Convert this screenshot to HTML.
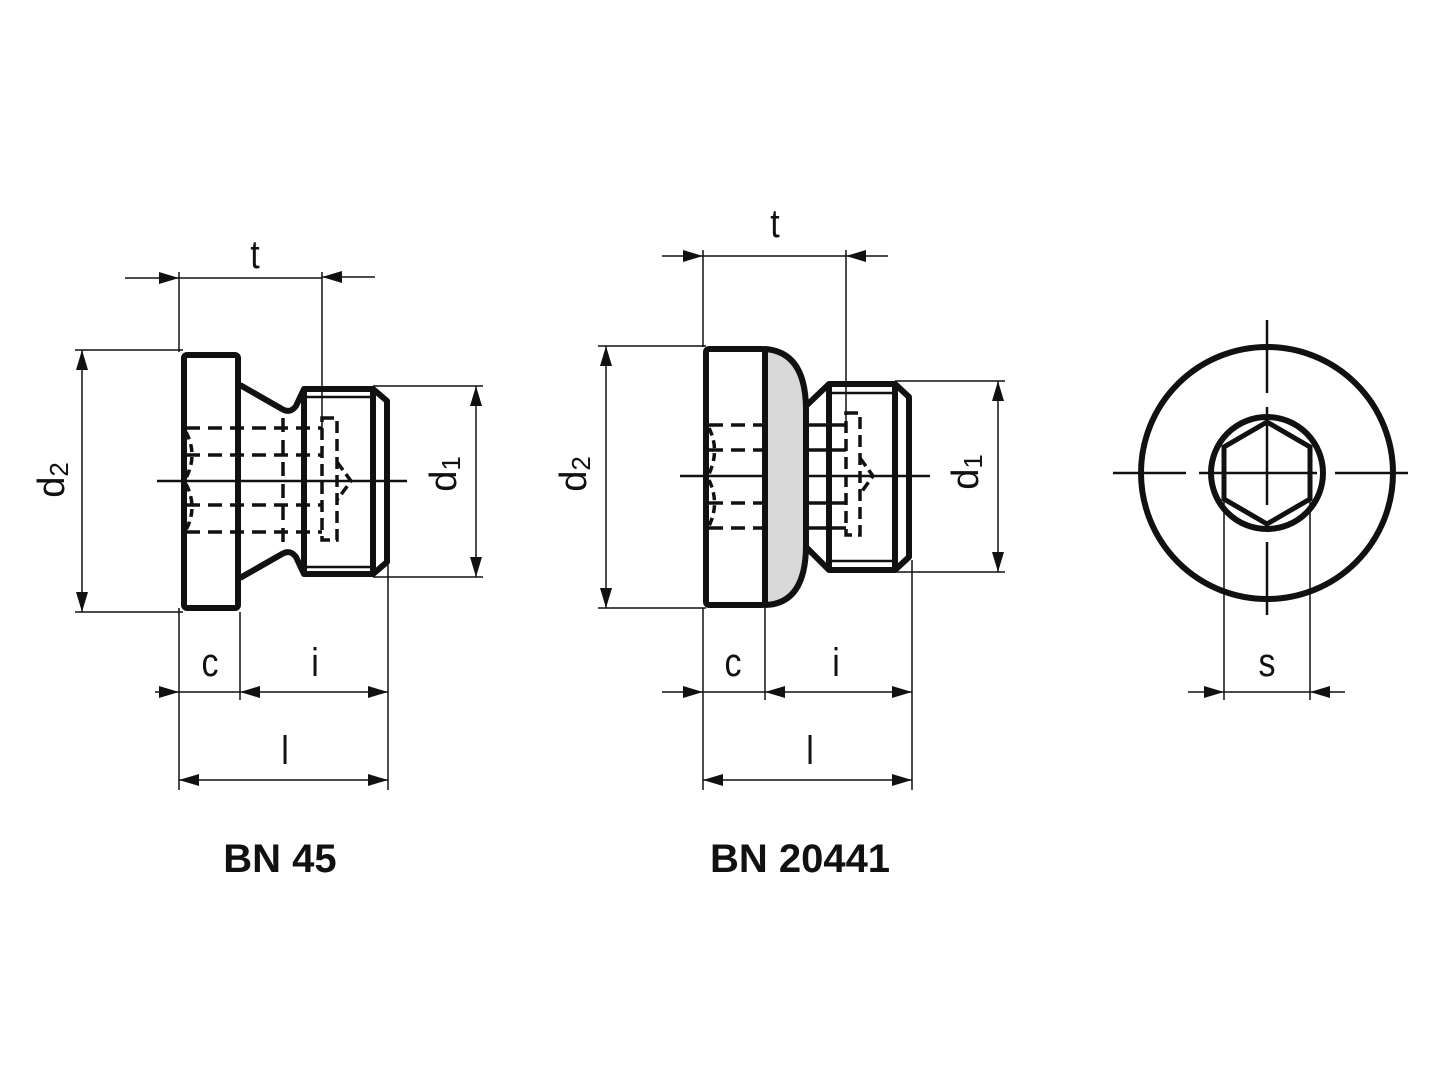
<!DOCTYPE html>
<html><head><meta charset="utf-8"><style>html,body{margin:0;padding:0;background:#fff}svg{display:block}</style></head><body>
<svg width="1440" height="1080" viewBox="0 0 1440 1080" xmlns="http://www.w3.org/2000/svg" font-family="Liberation Sans, sans-serif">
<defs>
<marker id="a" viewBox="0 0 20 12" refX="20" refY="6" markerWidth="20" markerHeight="12" markerUnits="userSpaceOnUse" orient="auto"><path d="M0,0 L20,6 L0,12 Z" fill="#111"/></marker>
</defs>
<rect width="1440" height="1080" fill="#fff"/>
<g stroke="#111" fill="none">
<!-- ===== BN45 ===== -->
<g stroke-width="1.5">
<line x1="157" y1="481" x2="407" y2="481" stroke-width="2.5"/>
<line x1="179" y1="272" x2="179" y2="352"/>
<line x1="322" y1="272" x2="322" y2="430"/>
<line x1="75" y1="350" x2="183" y2="350"/>
<line x1="75" y1="612" x2="183" y2="612"/>
<line x1="373" y1="386" x2="483" y2="386"/>
<line x1="373" y1="577" x2="483" y2="577"/>
<line x1="179" y1="608" x2="179" y2="790"/>
<line x1="240" y1="612" x2="240" y2="700"/>
<line x1="388" y1="565" x2="388" y2="790"/>
<line x1="125" y1="278" x2="179" y2="278" marker-end="url(#a)"/>
<line x1="179" y1="278" x2="322" y2="278"/>
<line x1="375" y1="277" x2="322" y2="277" marker-end="url(#a)"/>
<line x1="82" y1="481" x2="82" y2="350" marker-end="url(#a)"/>
<line x1="82" y1="481" x2="82" y2="612" marker-end="url(#a)"/>
<line x1="476" y1="481" x2="476" y2="386" marker-end="url(#a)"/>
<line x1="476" y1="481" x2="476" y2="577" marker-end="url(#a)"/>
<line x1="155" y1="692" x2="179" y2="692" marker-end="url(#a)"/>
<line x1="179" y1="692" x2="240" y2="692"/>
<line x1="314" y1="692" x2="240" y2="692" marker-end="url(#a)"/>
<line x1="314" y1="692" x2="388" y2="692" marker-end="url(#a)"/>
<line x1="284" y1="780" x2="179" y2="780" marker-end="url(#a)"/>
<line x1="284" y1="780" x2="388" y2="780" marker-end="url(#a)"/>
</g>
<g stroke-width="6" stroke-linejoin="round">
<rect x="184" y="355" width="54" height="253" rx="3"/>
<path d="M240,385 L282,409 Q290,414 296,406 L304,389 L373,389 L387,401 L387,562 L373,574 L304,574 L296,557 Q290,549 282,554 L240,578"/>
<line x1="304" y1="389" x2="304" y2="574"/>
<line x1="373" y1="389" x2="373" y2="574"/>
</g>
<g stroke-width="2.5">
<line x1="305" y1="397" x2="373" y2="397"/>
<line x1="305" y1="567" x2="373" y2="567"/>
</g>
<g stroke-width="3.5" stroke-dasharray="14,8">
<line x1="186" y1="428" x2="322" y2="428"/>
<line x1="186" y1="455" x2="322" y2="455"/>
<line x1="186" y1="505" x2="322" y2="505"/>
<line x1="186" y1="532" x2="322" y2="532"/>
<line x1="283" y1="418" x2="283" y2="545"/>
<rect x="322" y="418" width="15" height="122" stroke-dasharray="12,6"/>
<path d="M337,462 L351,481 L337,500" stroke-dasharray="10,5"/>
<path d="M186,432 Q198,455 186,478 M186,484 Q198,507 186,530" stroke-dasharray="8,5"/>
</g>
<!-- ===== BN20441 ===== -->
<g stroke-width="1.5">
<line x1="680" y1="476" x2="930" y2="476" stroke-width="2.5"/>
<line x1="703" y1="250" x2="703" y2="347"/>
<line x1="846" y1="250" x2="846" y2="425"/>
<line x1="598" y1="346" x2="706" y2="346"/>
<line x1="598" y1="608" x2="706" y2="608"/>
<line x1="895" y1="381" x2="1005" y2="381"/>
<line x1="895" y1="572" x2="1005" y2="572"/>
<line x1="703" y1="608" x2="703" y2="790"/>
<line x1="765" y1="608" x2="765" y2="700"/>
<line x1="912" y1="560" x2="912" y2="790"/>
<line x1="662" y1="256" x2="703" y2="256" marker-end="url(#a)"/>
<line x1="703" y1="256" x2="846" y2="256"/>
<line x1="888" y1="256" x2="846" y2="256" marker-end="url(#a)"/>
<line x1="606" y1="477" x2="606" y2="346" marker-end="url(#a)"/>
<line x1="606" y1="477" x2="606" y2="608" marker-end="url(#a)"/>
<line x1="998" y1="476" x2="998" y2="381" marker-end="url(#a)"/>
<line x1="998" y1="476" x2="998" y2="572" marker-end="url(#a)"/>
<line x1="662" y1="692" x2="703" y2="692" marker-end="url(#a)"/>
<line x1="703" y1="692" x2="765" y2="692"/>
<line x1="838" y1="692" x2="765" y2="692" marker-end="url(#a)"/>
<line x1="838" y1="692" x2="912" y2="692" marker-end="url(#a)"/>
<line x1="808" y1="780" x2="703" y2="780" marker-end="url(#a)"/>
<line x1="808" y1="780" x2="912" y2="780" marker-end="url(#a)"/>
</g>
<g stroke-width="6" stroke-linejoin="round">
<path d="M765,349 Q806,352 806,410 L806,545 Q806,604 765,605 Z" fill="#d9d9d9"/>
<rect x="706" y="349" width="59" height="256" rx="3"/>
<path d="M807,405 L829,384 L895,384 L909,397 L909,557 L895,570 L829,570 L807,548"/>
<line x1="829" y1="384" x2="829" y2="570"/>
<line x1="895" y1="384" x2="895" y2="570"/>
</g>
<g stroke-width="2.5">
<line x1="830" y1="393" x2="895" y2="393"/>
<line x1="830" y1="561" x2="895" y2="561"/>
</g>
<g stroke-width="3.5">
<line x1="808" y1="425" x2="846" y2="425"/>
<line x1="808" y1="450" x2="846" y2="450"/>
<line x1="808" y1="503" x2="846" y2="503"/>
<line x1="808" y1="528" x2="846" y2="528"/>
</g>
<g stroke-width="3.5" stroke-dasharray="14,8">
<line x1="709" y1="425" x2="762" y2="425"/>
<line x1="709" y1="450" x2="762" y2="450"/>
<line x1="709" y1="503" x2="762" y2="503"/>
<line x1="709" y1="528" x2="762" y2="528"/>
<rect x="846" y="413" width="14" height="122" stroke-dasharray="12,6"/>
<path d="M860,458 L873,476 L860,494" stroke-dasharray="10,5"/>
<path d="M709,428 Q720,450 709,474 M709,480 Q720,503 709,526" stroke-dasharray="8,5"/>
</g>
<!-- ===== End view ===== -->
<g stroke-width="2.5">
<line x1="1113" y1="473" x2="1186" y2="473"/>
<line x1="1199" y1="473" x2="1317" y2="473"/>
<line x1="1335" y1="473" x2="1408" y2="473"/>
<line x1="1267" y1="320" x2="1267" y2="393"/>
<line x1="1267" y1="407" x2="1267" y2="505"/>
<line x1="1267" y1="542" x2="1267" y2="615"/>
</g>
<circle cx="1267" cy="473" r="126" stroke-width="6"/>
<circle cx="1267" cy="473" r="56" stroke-width="6"/>
<path d="M1267,422 L1310,447 L1310,499 L1267,524 L1224,499 L1224,447 Z" stroke-width="5" stroke-linejoin="miter"/>
<g stroke-width="1.5">
<line x1="1224" y1="447" x2="1224" y2="700"/>
<line x1="1310" y1="447" x2="1310" y2="700"/>
<line x1="1188" y1="692" x2="1224" y2="692" marker-end="url(#a)"/>
<line x1="1224" y1="692" x2="1310" y2="692"/>
<line x1="1345" y1="692" x2="1310" y2="692" marker-end="url(#a)"/>
</g>
</g>
<g fill="#111" font-size="40" text-anchor="middle">
<text transform="translate(255,268) scale(0.85,1)">t</text>
<text transform="translate(775,237) scale(0.85,1)">t</text>
<text transform="translate(210,676) scale(0.85,1)">c</text>
<text transform="translate(315,676) scale(0.85,1)">i</text>
<text transform="translate(285,764) scale(0.85,1)">l</text>
<text transform="translate(733,676) scale(0.85,1)">c</text>
<text transform="translate(836,676) scale(0.85,1)">i</text>
<text transform="translate(810,764) scale(0.85,1)">l</text>
<text transform="translate(1267,676) scale(0.85,1)">s</text>
<text transform="translate(64,480) rotate(-90)" font-size="38">d<tspan font-size="26" dy="4">2</tspan></text>
<text transform="translate(456,474) rotate(-90)" font-size="38">d<tspan font-size="26" dy="4">1</tspan></text>
<text transform="translate(586,474) rotate(-90)" font-size="38">d<tspan font-size="26" dy="4">2</tspan></text>
<text transform="translate(978,472) rotate(-90)" font-size="38">d<tspan font-size="26" dy="4">1</tspan></text>
<text x="280" y="872" font-weight="bold" font-size="40">BN 45</text>
<text x="800" y="872" font-weight="bold" font-size="40">BN 20441</text>
</g>
</svg>
</body></html>
